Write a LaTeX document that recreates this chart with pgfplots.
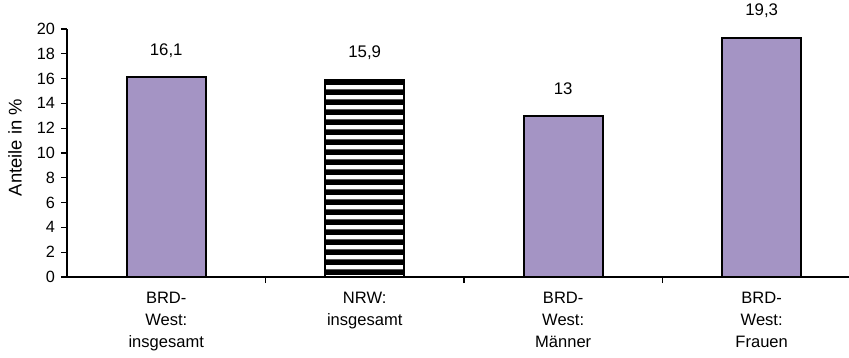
\documentclass[border=0pt]{standalone}
\usepackage{pgfplots}
\pgfplotsset{compat=1.18}
\usepackage{fontspec}
\setmainfont{Liberation Sans}
\usetikzlibrary{patterns.meta}
\definecolor{barlila}{RGB}{164,148,196}
\tikzdeclarepattern{
  name=hstripes,
  type=uncolored,
  bounding box={(0pt,0pt) and (10pt,7.75pt)},
  tile size={(10pt,7.75pt)},
  code={\fill (0pt,0pt) rectangle (10pt,4.4pt);}
}
\begin{document}
\begin{tikzpicture}
\useasboundingbox (-50.25pt,-60pt) rectangle (586.5pt,207.75pt);
\begin{axis}[
  at={(0pt,0pt)}, anchor=south west,
  scale only axis, width=586.5pt, height=186pt,
  xmin=-0.5, xmax=3.44, ymin=0, ymax=20,
  axis lines=left,
  axis line style={-, line width=1.5pt},
  ybar, bar width=0.4,
  ytick={0,2,...,20},
  tick align=outside, major tick length=4.5pt,
  tick style={black, line width=1pt},
  xtick={0.5,1.5,2.5}, xticklabels={,,},
  extra x ticks={0,1,2,3},
  extra x tick labels={{BRD-\\West:\\insgesamt},{NRW:\\insgesamt},{BRD-\\West:\\Männer},{BRD-\\West:\\Frauen}},
  extra x tick style={major tick length=0pt},
  xticklabel style={align=center, anchor=north, yshift=-8pt, font=\fontsize{12.4}{16.5}\selectfont},
  yticklabel style={font=\fontsize{12.2}{14}\selectfont, xshift=-1pt},
  /pgf/number format/assume math mode=true,
  /pgf/number format/use comma,
  nodes near coords,
  nodes near coords style={font=\fontsize{12.6}{14}\selectfont, anchor=center, yshift=20pt},
]
\addplot[fill=barlila, draw=black, line width=1.5pt, bar shift=0pt] coordinates {(0,16.1) (2,13) (3,19.3)};
\addplot[pattern=hstripes, pattern color=black, draw=black, line width=1.5pt, bar shift=0pt] coordinates {(1,15.9)};
\end{axis}
\node[rotate=90, font=\fontsize{13.8}{16}\selectfont] at (-39pt,97pt) {Anteile in \%};
\end{tikzpicture}
\end{document}
